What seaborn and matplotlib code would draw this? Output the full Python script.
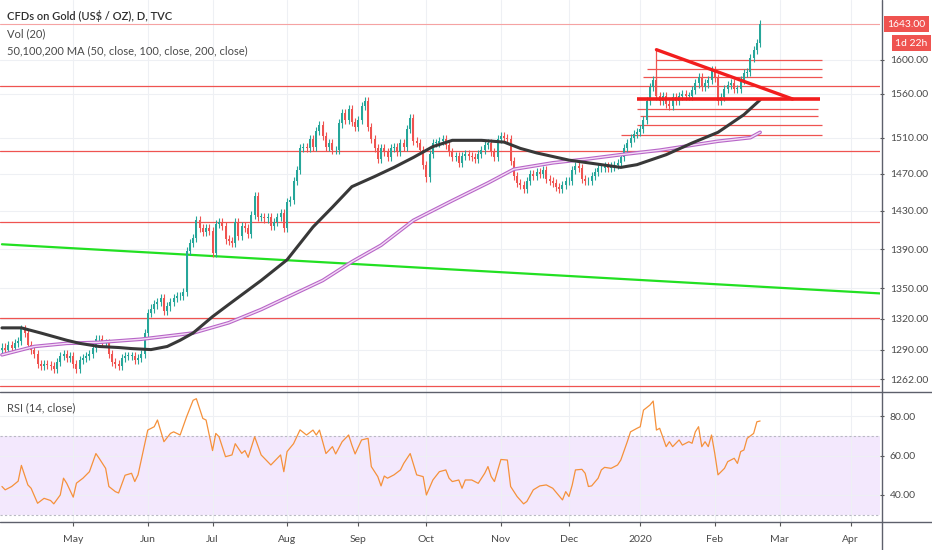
import numpy as np
import pandas as pd
import matplotlib.pyplot as plt
from matplotlib.lines import Line2D
import seaborn as sns

# daily closes, one per trading day from 2019-04-01 to 2020-02-21
closes = [
    1292, 1290, 1294, 1292, 1296, 1298, 1310, 1306, 1294, 1290,
    1286, 1276, 1274, 1276, 1275, 1274, 1272, 1278, 1284, 1286,
    1282, 1284, 1276, 1272, 1280, 1282, 1284, 1286, 1292, 1300,
    1300, 1296, 1296, 1286, 1278, 1276, 1274, 1282, 1284, 1284,
    1284, 1280, 1282, 1286, 1306, 1326, 1330, 1334, 1336, 1340,
    1328, 1332, 1336, 1340, 1342, 1342, 1346, 1388, 1396, 1402,
    1420, 1412, 1408, 1412, 1409, 1386, 1416, 1418, 1414, 1400,
    1398, 1396, 1418, 1404, 1414, 1412, 1406, 1426, 1446, 1424,
    1424, 1422, 1424, 1414, 1418, 1424, 1428, 1412, 1440, 1442,
    1462, 1474, 1498, 1500, 1498, 1508, 1500, 1518, 1524, 1512,
    1500, 1504, 1496, 1496, 1526, 1538, 1530, 1542, 1528, 1522,
    1530, 1546, 1552, 1522, 1508, 1498, 1486, 1498, 1494, 1488,
    1498, 1500, 1494, 1504, 1500, 1520, 1532, 1506, 1504, 1496,
    1480, 1466, 1492, 1504, 1504, 1506, 1508, 1502, 1494, 1488,
    1490, 1482, 1490, 1492, 1490, 1488, 1486, 1492, 1496, 1502,
    1504, 1494, 1488, 1508, 1512, 1510, 1508, 1484, 1468, 1460,
    1458, 1454, 1462, 1470, 1468, 1472, 1470, 1474, 1464, 1462,
    1460, 1456, 1454, 1458, 1462, 1462, 1474, 1478, 1476, 1464,
    1462, 1462, 1468, 1472, 1476, 1476, 1478, 1476, 1478, 1480,
    1482, 1488, 1498, 1504, 1510, 1514, 1516, 1520, 1530, 1552,
    1568, 1576, 1558, 1552, 1558, 1548, 1546, 1556, 1552, 1558,
    1560, 1558, 1558, 1564, 1572, 1580, 1568, 1572, 1576, 1588,
    1578, 1552, 1556, 1566, 1570, 1572, 1566, 1566, 1576, 1584,
    1586, 1602, 1612, 1620, 1643,
]
first_open = 1290

# moving averages (bar number, value)
ma_dark_bars = [0, 6, 12, 20, 24, 30, 36, 40, 46, 51, 55, 59, 65, 70, 80, 88, 96, 102,
                108, 115, 121, 127, 133, 139, 148, 155, 160, 165, 175, 185, 191, 196,
                205, 213, 221, 229, 234]
ma_dark_vals = [1311, 1311, 1306, 1299, 1296, 1293, 1292, 1291, 1290, 1293, 1299, 1306,
                1322, 1334, 1358, 1379, 1413, 1434, 1456, 1467, 1477, 1488, 1500, 1507,
                1507, 1505, 1498, 1493, 1485, 1480, 1477, 1480, 1491, 1504, 1516, 1536, 1553]
ma_purple_bars = [0, 10, 20, 30, 43, 51, 59, 70, 80, 99, 108, 117, 127, 139, 150, 158,
                  170, 180, 191, 203, 221, 231, 234]
ma_purple_vals = [1285, 1293, 1296, 1297, 1300, 1303, 1306, 1316, 1329, 1358, 1377, 1394,
                  1420, 1441, 1460, 1475, 1482, 1486, 1491, 1496, 1506, 1510, 1516]

# RSI (14, close)
rsi_bars = [0, 1, 3, 5, 6, 8, 9, 11, 13, 15, 16, 18, 19, 20, 22, 23, 25, 27, 29, 30,
            32, 33, 35, 36, 38, 40, 41, 42, 45, 47, 48, 50, 52, 53, 55, 57, 59, 60, 62, 63,
            65, 66, 67, 69, 71, 72, 74, 75, 76, 78, 80, 81, 83, 86, 87, 88, 90, 92, 94, 96,
            97, 98, 100, 102, 103, 105, 107, 108, 109, 111, 113, 114, 116, 117, 118, 119, 121, 123, 124, 126,
            128, 130, 131, 133, 135, 137, 138, 139, 141, 142, 143, 145, 147, 149, 150, 151, 152, 154, 156, 157,
            159, 161, 162, 164, 166, 168, 170, 172, 173, 174, 175, 176, 177, 179, 180, 181, 182, 184, 185, 186,
            188, 190, 191, 193, 194, 196, 197, 198, 200, 201, 202, 203, 205, 206, 207, 209, 210, 212, 213, 214,
            215, 216, 217, 218, 219, 220, 221, 223, 224, 226, 227, 228, 229, 230, 232, 233, 234]
rsi_vals = [44.3, 42.6, 44.3, 47, 55, 45.1, 43.4, 35.8, 38.3, 37.2, 35.5, 40, 48.5, 45.9, 38.9, 46, 48.5, 51.8, 61, 58.6,
            53.5, 44.3, 41.7, 41, 50, 51, 46.8, 50.2, 72.9, 74.6, 78, 67, 71.2, 72, 70.4, 79.7, 88, 88.8, 78.8, 78,
            62.5, 71.2, 69.5, 59.4, 60.3, 66, 61.1, 62.5, 59.1, 69.5, 60.3, 58.6, 55.2, 60.3, 51.8, 62, 66, 73, 70.4, 72.9,
            70.4, 72.9, 61, 64.5, 60.8, 67, 70.4, 65.3, 60.8, 67.9, 68.7, 54.4, 49.3, 44.6, 49.6, 48.5, 50.2, 52.7, 56, 61,
            50.2, 49.3, 40, 47.6, 51.8, 52.7, 48.5, 46.8, 47.6, 43.4, 47.6, 47.6, 45.9, 51, 54.4, 49.3, 46.8, 58, 57.7, 44.3,
            39.2, 35.5, 36.7, 42.6, 44.6, 45.1, 43.4, 39.5, 37.5, 41.7, 39.2, 45, 52.7, 53, 51, 44.3, 44.6, 48.5, 52.7, 54,
            53.5, 55.2, 57.7, 67, 72, 73.8, 74.6, 83, 85.6, 87.6, 72.9, 73.8, 64.5, 67, 64.5, 67.9, 65.3, 67, 66.2, 72,
            74.6, 64.5, 67, 64.5, 70.4, 61.1, 50.2, 53.5, 56.9, 58.6, 56, 62, 62.8, 68.7, 71.2, 77.1, 77.5]

# drawn levels
full_levels = [1569, 1495, 1418, 1321, 1256]
short_levels = [1600, 1589, 1580, 1543, 1534, 1524, 1513]
short_start = [202, 199, 198, 196, 197, 196, 191]
short_end = [253, 253, 253, 252, 252, 253, 253]
support_level = 1554
support_span = (196, 252.5)
wedge_bars = [202, 244]
wedge_vals = [1612, 1554]
green_bars = [0, 271]
green_vals = [1395, 1345]

price_ticks = [1262, 1290, 1320, 1350, 1390, 1430, 1470, 1510, 1560, 1600]
rsi_ticks = [40, 60, 80]
last_price = 1643
countdown_level = 1620

sns.set_theme(style='white')
plt.rcParams['font.family'] = ['Lato', 'DejaVu Sans']

dates = pd.bdate_range('2019-04-01', '2020-04-30')
month_pos, month_lbl = [], []
for i in range(1, len(dates)):
    if dates[i].month != dates[i - 1].month:
        d = dates[i]
        if d > pd.Timestamp('2020-04-20'):
            break
        month_pos.append(i)
        month_lbl.append(str(d.year) if d.month == 1 else d.strftime('%b'))

W, H = 932, 550
fig = plt.figure(figsize=(W / 100, H / 100), dpi=100)
ax = fig.add_axes([0, 1 - 392 / H, 880 / W, 392 / H])
axr = fig.add_axes([0, 1 - 522 / H, 880 / W, 130 / H], sharex=ax)

grid_c = '#eef0f4'
txt_c = '#4a4a4a'
red = '#ef5350'
teal = '#26a69a'

# candles
opens = [first_open] + closes[:-1]
for i, (o, c) in enumerate(zip(opens, closes)):
    col = teal if c >= o else red
    lo, hi = min(o, c), max(o, c)
    ax.vlines(i, lo * 0.997, hi * 1.003, color=col, lw=0.8, zorder=3)
    ax.bar(i, max(hi - lo, 0.6), bottom=lo, width=0.62, color=col, lw=0, zorder=3)

# moving averages
sns.lineplot(x=ma_purple_bars, y=ma_purple_vals, ax=ax, color='#b866c8', lw=2.6, zorder=4)
sns.lineplot(x=ma_purple_bars, y=ma_purple_vals, ax=ax, color='#f3dcf5', lw=1.0, zorder=4)
sns.lineplot(x=ma_dark_bars, y=ma_dark_vals, ax=ax, color='#383838', lw=2.2, zorder=5)

# drawings
for lv in full_levels:
    ax.axhline(lv, color=red, lw=0.9, zorder=2)
ax.axhline(last_price, color='#f5a3a3', lw=0.8, zorder=2)
for lv, s, e in zip(short_levels, short_start, short_end):
    ax.hlines(lv, s, e, color=red, lw=0.9, zorder=2)
ax.hlines(support_level, *support_span, color='#f21d1d', lw=2.6, zorder=6)
ax.plot(wedge_bars, wedge_vals, color='#f21d1d', lw=2.4, zorder=6)
ax.vlines(wedge_bars[0], support_level, wedge_vals[0], color=red, lw=0.9, zorder=2)
ax.plot(green_bars, green_vals, color='#22e022', lw=1.6, zorder=2)

ax.set_yscale('log')
ax.set_ylim(1250, 1672.6)
ax.set_xlim(-0.6, 271)
ax.yaxis.set_minor_locator(plt.NullLocator())
ax.set_yticks(price_ticks)
ax.set_yticklabels([f'{t:.2f}' for t in price_ticks])
ax.yaxis.tick_right()
ax.set_xticks(month_pos)
ax.tick_params(axis='x', bottom=False, labelbottom=False)
ax.tick_params(axis='y', right=True, length=3, color='#555555', width=0.8,
               labelsize=7.5, labelcolor=txt_c, pad=4)
ax.grid(True, color=grid_c, lw=0.8, zorder=0)
for sp in ax.spines.values():
    sp.set_visible(False)
ax.set_xlabel('')
ax.set_ylabel('')

# RSI panel
axr.axhspan(30, 70, color='#f3e8fd', zorder=0, lw=0)
axr.axhline(70, color='#b9b9c3', lw=0.8, ls=(0, (2, 2)), zorder=1)
axr.axhline(30, color='#b9b9c3', lw=0.8, ls=(0, (2, 2)), zorder=1)
sns.lineplot(x=rsi_bars, y=rsi_vals, ax=axr, color='#f5913b', lw=0.9, zorder=3)
axr.set_ylim(26.3, 92.2)
axr.set_yticks(rsi_ticks)
axr.set_yticklabels([f'{t:.2f}' for t in rsi_ticks])
axr.yaxis.tick_right()
axr.set_xticks(month_pos)
axr.set_xticklabels(month_lbl)
axr.tick_params(axis='y', right=True, length=3, color='#555555', width=0.8,
                labelsize=7.5, labelcolor=txt_c, pad=4)
axr.tick_params(axis='x', bottom=True, length=3, color='#555555', width=0.8,
                labelsize=7.5, labelcolor=txt_c, pad=6)
axr.grid(True, color=grid_c, lw=0.8, zorder=0)
for sp in axr.spines.values():
    sp.set_visible(False)
axr.set_xlabel('')
axr.set_ylabel('')

# panel borders
frame_c = '#5d606b'
fig.add_artist(Line2D([0, 1], [1 - 392 / H] * 2, color=frame_c, lw=1.0, transform=fig.transFigure))
fig.add_artist(Line2D([0, 1], [1 - 522 / H] * 2, color=frame_c, lw=1.0, transform=fig.transFigure))
fig.add_artist(Line2D([882 / W] * 2, [0, 1], color=frame_c, lw=1.0, transform=fig.transFigure))

# legend texts
fig.text(7 / W, 1 - 16 / H, 'CFDs on Gold (US$ / OZ), D, TVC', fontsize=8, color='#2f2f2f',
         fontweight='semibold', va='center')
fig.text(7 / W, 1 - 34 / H, 'Vol (20)', fontsize=8, color=txt_c, va='center')
fig.text(7 / W, 1 - 51 / H, '50,100,200 MA (50, close, 100, close, 200, close)', fontsize=8,
         color=txt_c, va='center')
fig.text(7 / W, 1 - 408 / H, 'RSI (14, close)', fontsize=8, color=txt_c, va='center')

# price labels on the scale
ax.annotate(f'{last_price:.2f}', xy=(1.0, last_price), xycoords=('axes fraction', 'data'),
            xytext=(5.5, 0), textcoords='offset points', fontsize=7.5, color='white',
            va='center', ha='left', annotation_clip=False,
            bbox=dict(boxstyle='square,pad=0.35', fc=red, ec='none'))
ax.annotate('1d 22h', xy=(1.0, countdown_level), xycoords=('axes fraction', 'data'),
            xytext=(11, 0), textcoords='offset points', fontsize=7.5, color='white',
            va='center', ha='left', annotation_clip=False,
            bbox=dict(boxstyle='square,pad=0.35', fc=red, ec='none'))

fig.savefig('out.png', dpi=100, facecolor='white')
